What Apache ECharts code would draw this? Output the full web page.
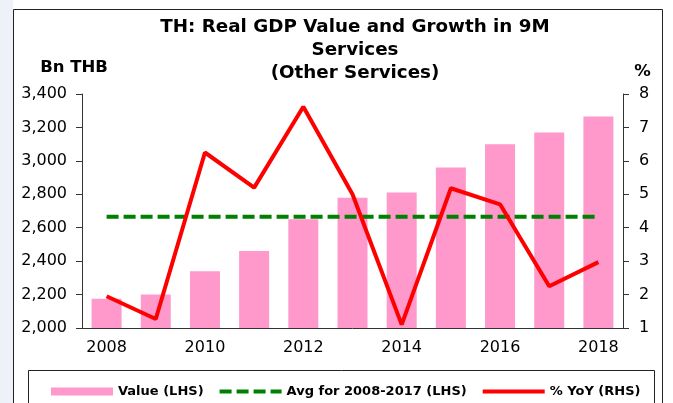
<!DOCTYPE html>
<html>
<head>
<meta charset="utf-8">
<script src="https://cdn.jsdelivr.net/npm/echarts@6/dist/echarts.min.js"></script>
<style>
  html, body { margin: 0; padding: 0; background: #fff; }
  #chart { width: 673px; height: 403px; }
</style>
</head>
<body>
<div id="chart"></div>
<script>
// data
const years = ['2008', '2009', '2010', '2011', '2012', '2013', '2014', '2015', '2016', '2017', '2018']
const gdpValue = [2175, 2200, 2340, 2460, 2650, 2780, 2810, 2960, 3100, 3170, 3265]
const yoyGrowth = [1.95, 1.27, 6.25, 5.2, 7.62, 5.0, 1.1, 5.18, 4.7, 2.25, 2.97]
const avgValue = 2665

const FONT = 'DejaVu Sans, Verdana, sans-serif'
// hide the little circle echarts puts on line legend icons
const noSymbol = { color: 'rgba(0,0,0,0)', borderColor: 'rgba(0,0,0,0)', borderWidth: 0 }

let myChart = echarts.init(document.getElementById('chart'))
myChart.setOption({
  animation: false,
  backgroundColor: '#fff',
  textStyle: { fontFamily: FONT, color: '#000' },
  title: {
    text: 'TH: Real GDP Value and Growth in 9M\nServices\n(Other Services)',
    left: 350,
    textAlign: 'center',
    top: 11,
    textStyle: { fontFamily: FONT, fontSize: 18.3, fontWeight: 'bold', color: '#000', lineHeight: 23 }
  },
  graphic: [
    { type: 'rect', shape: { x: 0, y: 0, width: 13, height: 403 }, style: { fill: '#EEF1F8' }, z: 0 },
    { type: 'rect', shape: { x: 13.5, y: 9.5, width: 649, height: 420 }, style: { fill: 'none', stroke: '#222', lineWidth: 1 }, z: 0 },
    { type: 'rect', shape: { x: 28.5, y: 370.5, width: 626, height: 60 }, style: { fill: 'none', stroke: '#222', lineWidth: 1 }, z: 0 }
  ],
  legend: {
    left: 46,
    top: 380,
    itemWidth: 62,
    itemHeight: 8,
    itemGap: 14,
    textStyle: { fontFamily: FONT, fontSize: 13, fontWeight: 'bold', color: '#000' },
    data: [
      { name: 'Value (LHS)', icon: 'rect' },
      { name: 'Avg for 2008-2017 (LHS)', itemStyle: noSymbol, lineStyle: { width: 4 } },
      { name: '% YoY (RHS)', itemStyle: noSymbol, lineStyle: { width: 4 } }
    ]
  },
  grid: { left: 82, right: 50, top: 94, bottom: 75 },
  xAxis: {
    type: 'category',
    data: years,
    axisLine: { lineStyle: { color: '#333', width: 1 } },
    axisTick: { interval: 0, length: 5, lineStyle: { color: '#333' } },
    axisLabel: { interval: 1, fontSize: 16, color: '#000', margin: 12, fontFamily: FONT }
  },
  yAxis: [
    {
      type: 'value',
      min: 2000,
      max: 3400,
      interval: 200,
      name: 'Bn THB',
      nameLocation: 'end',
      nameGap: 18,
      nameTextStyle: { fontFamily: FONT, fontSize: 16.5, fontWeight: 'bold', color: '#000', align: 'center', padding: [0, 0, 0, -16] },
      splitLine: { show: false },
      axisLine: { show: true, lineStyle: { color: '#333' } },
      axisTick: { show: true, length: 6, lineStyle: { color: '#333' } },
      axisLabel: {
        fontSize: 16, color: '#000', margin: 15, fontFamily: FONT,
        formatter: v => v.toLocaleString('en-US')
      }
    },
    {
      type: 'value',
      min: 1,
      max: 8,
      interval: 1,
      name: '%',
      nameLocation: 'end',
      nameGap: 14,
      nameTextStyle: { fontFamily: FONT, fontSize: 16.5, fontWeight: 'bold', color: '#000', align: 'center', padding: [0, 0, 0, 39] },
      splitLine: { show: false },
      axisLine: { show: true, lineStyle: { color: '#333' } },
      axisTick: { show: true, length: 6, lineStyle: { color: '#333' } },
      axisLabel: { fontSize: 16, color: '#000', margin: 16, fontFamily: FONT }
    }
  ],
  series: [
    {
      name: 'Value (LHS)',
      type: 'bar',
      yAxisIndex: 0,
      barWidth: 30,
      itemStyle: { color: '#FF99CC' },
      data: gdpValue,
      z: 1
    },
    {
      name: 'Avg for 2008-2017 (LHS)',
      type: 'line',
      yAxisIndex: 0,
      symbol: 'none',
      lineStyle: { color: '#008000', width: 4, type: [12, 5] },
      itemStyle: { color: '#008000' },
      data: years.map(() => avgValue),
      z: 2
    },
    {
      name: '% YoY (RHS)',
      type: 'line',
      yAxisIndex: 1,
      symbol: 'none',
      lineStyle: { color: '#FF0000', width: 4 },
      itemStyle: { color: '#FF0000' },
      data: yoyGrowth,
      z: 3
    }
  ]
})
</script>
</body>
</html>
